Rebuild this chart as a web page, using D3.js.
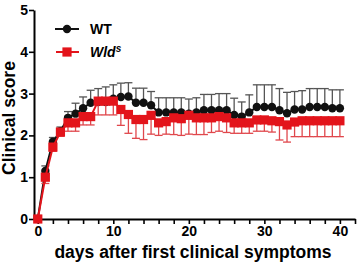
<!DOCTYPE html>
<html>
<head>
<meta charset="utf-8">
<script src="https://cdn.jsdelivr.net/npm/d3@7"></script>
<style>
  body { margin: 0; background: #fff; }
  text { font-family: Arial, "Liberation Sans", sans-serif; font-weight: bold; }
</style>
</head>
<body>
<div id="chart"></div>
<script>
const width = 358, height = 264;

// days 0..40
const days = d3.range(0, 41);
const wtMean = [0, 1.15, 1.85, 2.1, 2.42, 2.52, 2.65, 2.78, 2.8, 2.8,
  2.88, 2.92, 2.93, 2.78, 2.78, 2.72, 2.55, 2.55, 2.55, 2.55,
  2.52, 2.55, 2.6, 2.6, 2.6, 2.6, 2.49, 2.45, 2.55, 2.68,
  2.68, 2.68, 2.6, 2.53, 2.62, 2.62, 2.68, 2.68, 2.68, 2.65, 2.65];
const wtErr = [0, 0.12, 0.1, 0.1, 0.15, 0.25, 0.27, 0.3, 0.32, 0.36,
  0.33, 0.33, 0.33, 0.35, 0.35, 0.33, 0.35, 0.35, 0.35, 0.35,
  0.35, 0.35, 0.38, 0.38, 0.4, 0.4, 0.4, 0.35, 0.42, 0.53,
  0.53, 0.53, 0.52, 0.5, 0.43, 0.45, 0.44, 0.44, 0.44, 0.44, 0.44];
const wldMean = [0, 1.0, 1.72, 2.08, 2.3, 2.3, 2.45, 2.45, 2.82, 2.82,
  2.82, 2.62, 2.5, 2.38, 2.38, 2.48, 2.3, 2.33, 2.42, 2.4,
  2.48, 2.42, 2.42, 2.42, 2.45, 2.42, 2.3, 2.3, 2.3, 2.37,
  2.37, 2.35, 2.33, 2.25, 2.32, 2.35, 2.35, 2.35, 2.35, 2.35, 2.35];
const wldErr = [0, 0.15, 0.1, 0.1, 0.2, 0.2, 0.2, 0.2, 0.33, 0.33,
  0.33, 0.38, 0.45, 0.45, 0.48, 0.45, 0.3, 0.3, 0.4, 0.4,
  0.45, 0.4, 0.4, 0.35, 0.35, 0.35, 0.25, 0.25, 0.25, 0.27,
  0.27, 0.27, 0.44, 0.41, 0.35, 0.38, 0.38, 0.38, 0.38, 0.38, 0.38];

const yTicks = [0, 1, 2, 3, 4, 5];
const xTicks = d3.range(0, 43, 2);
const xLabels = [0, 10, 20, 30, 40];

const black = "#111", red = "#e3141b";

const svg = d3.select("#chart").append("svg")
  .attr("width", width).attr("height", height);

const x = d3.scaleLinear().domain([-0.5, 42]).range([34, 355]);
const y = d3.scaleLinear().domain([0, 5]).range([219, 10]);

// axes
const xAxis = svg.append("g")
  .attr("transform", "translate(0," + y(0) + ")")
  .call(d3.axisBottom(x).tickValues(xTicks).tickSize(5).tickSizeOuter(0).tickPadding(2)
    .tickFormat(d => xLabels.includes(d) ? d : ""));
const yAxis = svg.append("g")
  .attr("transform", "translate(" + x(-0.5) + ",0)")
  .call(d3.axisLeft(y).tickValues(yTicks).tickSize(5).tickSizeOuter(0).tickPadding(1)
    .tickFormat(d3.format("d")));

[xAxis, yAxis].forEach(a => {
  a.select(".domain").attr("stroke", "#000").attr("stroke-width", 2);
  a.selectAll(".tick line").attr("stroke", "#000").attr("stroke-width", 1.6);
  a.selectAll(".tick text").attr("fill", "#000")
    .style("font-size", "14px").style("font-weight", "bold");
});

svg.append("text")
  .attr("x", 193).attr("y", 258)
  .attr("text-anchor", "middle")
  .style("font-size", "17.5px")
  .text("days after first clinical symptoms");

svg.append("text")
  .attr("transform", "translate(15,118) rotate(-90)")
  .attr("text-anchor", "middle")
  .style("font-size", "17.5px")
  .text("Clinical score");

const line = d3.line().x(d => x(d[0])).y(d => y(d[1]));

function drawSeries(mean, err, color, errColor, dir, marker) {
  const g = svg.append("g");
  const pts = days.map((d, i) => [d, mean[i], err[i]]);
  // error bars
  g.selectAll("line.eb").data(pts.filter(p => p[2] > 0)).enter()
    .append("line")
    .attr("x1", d => x(d[0])).attr("x2", d => x(d[0]))
    .attr("y1", d => y(d[1])).attr("y2", d => y(d[1] + dir * d[2]))
    .attr("stroke", errColor).attr("stroke-width", 1.3);
  g.selectAll("line.cap").data(pts.filter(p => p[2] > 0)).enter()
    .append("line")
    .attr("x1", d => x(d[0]) - 4).attr("x2", d => x(d[0]) + 4)
    .attr("y1", d => y(d[1] + dir * d[2])).attr("y2", d => y(d[1] + dir * d[2]))
    .attr("stroke", errColor).attr("stroke-width", 1.3);
  g.append("path").datum(pts)
    .attr("d", line).attr("fill", "none")
    .attr("stroke", color).attr("stroke-width", 2);
  if (marker === "circle") {
    g.selectAll("circle").data(pts).enter().append("circle")
      .attr("cx", d => x(d[0])).attr("cy", d => y(d[1])).attr("r", 4.2)
      .attr("fill", color);
  } else {
    g.selectAll("rect").data(pts).enter().append("rect")
      .attr("x", d => x(d[0]) - 4.6).attr("y", d => y(d[1]) - 4.6)
      .attr("width", 9.2).attr("height", 9.2)
      .attr("fill", color);
  }
}

drawSeries(wtMean, wtErr, black, "#555", 1, "circle");
drawSeries(wldMean, wldErr, red, "#e0474c", -1, "square");

// legend
const lg = svg.append("g");
lg.append("line").attr("x1", 55).attr("x2", 79).attr("y1", 29).attr("y2", 29)
  .attr("stroke", black).attr("stroke-width", 2);
lg.append("circle").attr("cx", 67).attr("cy", 29).attr("r", 4.2).attr("fill", black);
lg.append("text").attr("x", 90).attr("y", 34).style("font-size", "14px").text("WT");
lg.append("line").attr("x1", 56).attr("x2", 79).attr("y1", 52).attr("y2", 52)
  .attr("stroke", red).attr("stroke-width", 2);
lg.append("rect").attr("x", 62.4).attr("y", 47.4).attr("width", 9.2).attr("height", 9.2).attr("fill", red);
const wt = lg.append("text").attr("x", 90).attr("y", 57).style("font-size", "14px")
  .style("font-style", "italic");
wt.append("tspan").text("Wld");
wt.append("tspan").attr("dy", -5).style("font-size", "10px").text("s");
</script>
</body>
</html>
